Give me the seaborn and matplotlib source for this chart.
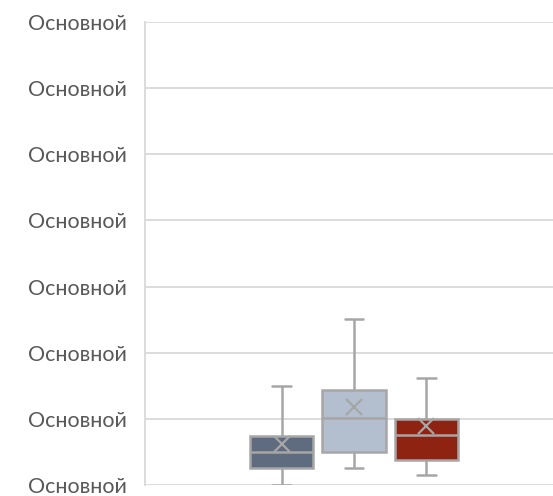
import numpy as np
import pandas as pd
import matplotlib
matplotlib.use("Agg")
import matplotlib.pyplot as plt
import seaborn as sns

# Data (five-number summaries) + means
series = ["Ряд 1", "Ряд 2", "Ряд 3"]
vals_1 = [0.00, 0.26, 0.50, 0.74, 1.50]
vals_2 = [0.26, 0.50, 1.01, 1.44, 2.51]
vals_3 = [0.15, 0.38, 0.76, 1.00, 1.62]
means = [0.62, 1.18, 0.89]
colors = ["#5f6b7f", "#b3bece", "#8e2312"]
ytick_vals = [0, 1, 2, 3, 4, 5, 6, 7]
ytick_labels = ["Основной"] * 8

sns.set_style("white")
plt.rcParams["font.family"] = ["Lato", "DejaVu Sans"]

df = pd.DataFrame({
    "series": [series[0]] * 5 + [series[1]] * 5 + [series[2]] * 5,
    "value": vals_1 + vals_2 + vals_3,
})

fig = plt.figure(figsize=(5.53, 4.96), dpi=100)
ax = fig.add_axes([145 / 553, 1 - 485 / 496, (553 - 145) / 553, (485 - 22) / 496])

edge = "#a6a6a6"
sns.boxplot(data=df, x="series", y="value", hue="series", palette=colors,
            saturation=1, legend=False, width=0.88, whis=(0, 100),
            linecolor=edge, linewidth=1.8, showfliers=False, capwidths=0.26,
            ax=ax)
sns.pointplot(x=series, y=means, color=edge, marker="x", linestyle="none",
              markersize=11, markeredgewidth=1.6, errorbar=None, ax=ax)

ax.set_ylim(0, 7)
ax.set_yticks(ytick_vals)
ax.set_yticklabels(ytick_labels, color="#595959", fontsize=15.5)
ax.tick_params(axis="y", length=0, pad=13)
ax.set_xticks([])
ax.set_xlim(-1.883, 3.745)
ax.set_xlabel("")
ax.set_ylabel("")
ax.yaxis.grid(True, color="#d9d9d9", linewidth=1.3)
ax.set_axisbelow(True)
for s in ["top", "right", "bottom"]:
    ax.spines[s].set_visible(False)
ax.spines["left"].set_color("#d9d9d9")
ax.spines["left"].set_linewidth(1.3)

fig.savefig("out.png", dpi=100)
